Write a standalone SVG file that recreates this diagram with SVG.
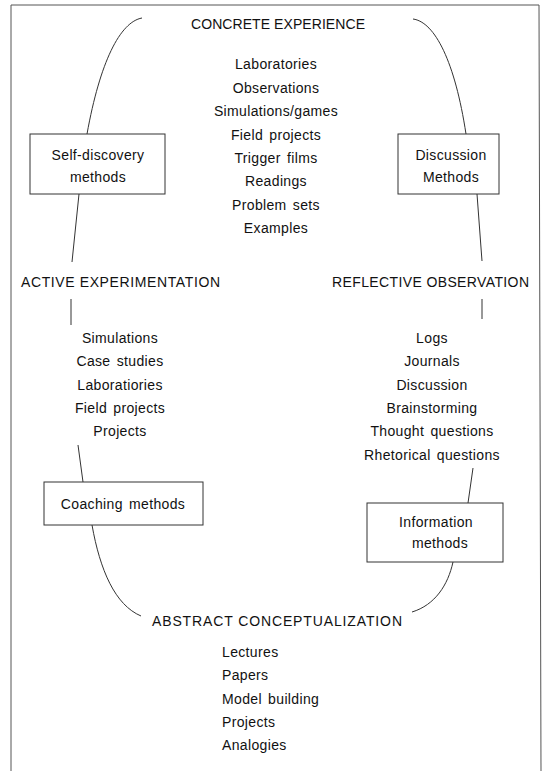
<svg xmlns="http://www.w3.org/2000/svg" width="544" height="771" viewBox="0 0 544 771">
<style>
text { font-family: "Liberation Sans", Arial, sans-serif; fill: #111; }
.h { font-size: 14px; }
.t { font-size: 14px; letter-spacing: 0.35px; word-spacing: 2px; text-anchor: middle; }
.ls { font-size: 14px; letter-spacing: 0.35px; word-spacing: 2px; text-anchor: start; }
.box { fill: #fff; stroke: #333; stroke-width: 1; }
.frame { fill: none; stroke: #555; stroke-width: 1; }
.conn path { fill: none; stroke: #333; stroke-width: 1; }
</style>
<rect width="544" height="771" fill="#fff"/>
<path class="frame" d="M11,771 L11,5 L539,5 L541,771"/>

<g id="connectors" class="conn">
  <path d="M142,18 C120,22 100,62 87,134"/>
  <path d="M413,19 C435,22 455,62 466,134"/>
  <path d="M79,194 L72,262"/>
  <path d="M71,299 L71,325"/>
  <path d="M477,194 L482,261"/>
  <path d="M482,299 L482,319"/>
  <path d="M78,445 L83,482"/>
  <path d="M473,468 L468,503"/>
  <path d="M92,525 C100,570 115,605 141,616"/>
  <path d="M453,562 C448,585 435,605 412,612"/>
</g>

<g id="concrete-experience">
  <text class="h" x="191" y="29" textLength="174" lengthAdjust="spacing">CONCRETE EXPERIENCE</text>
  <text class="t" x="276" y="69.3">Laboratories</text>
  <text class="t" x="276" y="92.7">Observations</text>
  <text class="t" x="276" y="116.1">Simulations/games</text>
  <text class="t" x="276" y="139.5">Field projects</text>
  <text class="t" x="276" y="162.9">Trigger films</text>
  <text class="t" x="276" y="186.3">Readings</text>
  <text class="t" x="276" y="209.7">Problem sets</text>
  <text class="t" x="276" y="233.1">Examples</text>
</g>

<g id="self-discovery-methods">
  <rect class="box" x="30" y="134" width="135" height="60"/>
  <text class="t" x="98" y="160">Self-discovery</text>
  <text class="t" x="98" y="182">methods</text>
</g>

<g id="discussion-methods">
  <rect class="box" x="398" y="134" width="101" height="60"/>
  <text class="t" x="451" y="160">Discussion</text>
  <text class="t" x="451" y="182">Methods</text>
</g>

<g id="active-experimentation">
  <text class="h" x="21" y="287" textLength="199" lengthAdjust="spacing">ACTIVE EXPERIMENTATION</text>
  <text class="t" x="120" y="342.7">Simulations</text>
  <text class="t" x="120" y="366.1">Case studies</text>
  <text class="t" x="120" y="389.5">Laboratiories</text>
  <text class="t" x="120" y="412.9">Field projects</text>
  <text class="t" x="120" y="436.3">Projects</text>
</g>

<g id="reflective-observation">
  <text class="h" x="332" y="287" textLength="197" lengthAdjust="spacing">REFLECTIVE OBSERVATION</text>
  <text class="t" x="432" y="342.7">Logs</text>
  <text class="t" x="432" y="366.1">Journals</text>
  <text class="t" x="432" y="389.5">Discussion</text>
  <text class="t" x="432" y="412.9">Brainstorming</text>
  <text class="t" x="432" y="436.3">Thought questions</text>
  <text class="t" x="432" y="459.7">Rhetorical questions</text>
</g>

<g id="coaching-methods">
  <rect class="box" x="44" y="482" width="159" height="43"/>
  <text class="t" x="123" y="509">Coaching methods</text>
</g>

<g id="information-methods">
  <rect class="box" x="367" y="503" width="136" height="59"/>
  <text class="t" x="436" y="527">Information</text>
  <text class="t" x="440" y="548">methods</text>
</g>

<g id="abstract-conceptualization">
  <text class="h" x="152" y="626" textLength="250" lengthAdjust="spacing">ABSTRACT CONCEPTUALIZATION</text>
  <text class="ls" x="222" y="656.7">Lectures</text>
  <text class="ls" x="222" y="680.1">Papers</text>
  <text class="ls" x="222" y="703.5">Model building</text>
  <text class="ls" x="222" y="726.9">Projects</text>
  <text class="ls" x="222" y="750.3">Analogies</text>
</g>
</svg>
